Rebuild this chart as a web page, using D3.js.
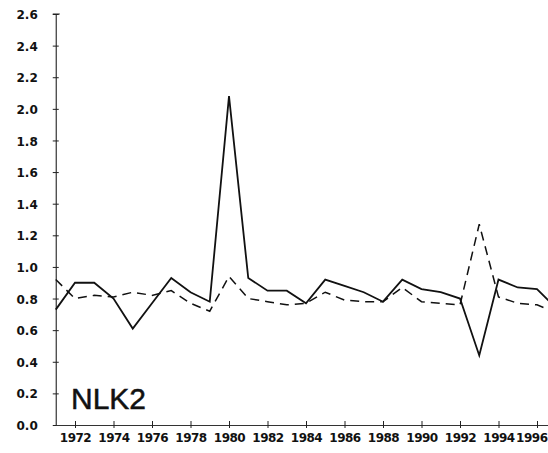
<!DOCTYPE html>
<html>
<head>
<meta charset="utf-8">
<script src="https://cdn.jsdelivr.net/npm/d3@7"></script>
<style>
  html, body { margin: 0; padding: 0; background: #fff; overflow: hidden; }
  .tick text { font-family: "DejaVu Sans", sans-serif; font-weight: bold; font-size: 12px; fill: #111; }
  .xax .tick text { letter-spacing: -0.5px; }
</style>
</head>
<body>
<div id="chart"></div>
<script>
// years and the two NLK2 series
const years = d3.range(1971, 1998);
const solidVals = [0.73, 0.90, 0.90, 0.80, 0.61, 0.77, 0.93, 0.84, 0.78, 2.08,
  0.93, 0.85, 0.85, 0.77, 0.92, 0.88, 0.84, 0.78, 0.92, 0.86,
  0.84, 0.80, 0.44, 0.92, 0.87, 0.86, 0.74];
const dashedVals = [0.92, 0.80, 0.82, 0.81, 0.84, 0.82, 0.85, 0.77, 0.72, 0.94,
  0.80, 0.78, 0.76, 0.77, 0.84, 0.79, 0.78, 0.78, 0.87, 0.78,
  0.77, 0.76, 1.27, 0.81, 0.77, 0.76, 0.71];
const yTicks = d3.range(0, 2.61, 0.2);
const xTicks = d3.range(1972, 1997, 2);

const width = 548, height = 453;

const svg = d3.select("#chart").append("svg")
  .attr("width", width)
  .attr("height", height);

const x = d3.scaleLinear().domain([1971, 1997]).range([55.75, 556.25]);
const y = d3.scaleLinear().domain([0, 2.6]).range([425, 14]);

// y axis, ticks cross the line
const yAxis = svg.append("g")
  .attr("transform", `translate(${x(1971)},0)`)
  .call(d3.axisLeft(y).tickValues(yTicks).tickFormat(d3.format(".1f")).tickSize(3).tickPadding(15).tickSizeOuter(0));
yAxis.select(".domain").attr("stroke", "#333").attr("stroke-width", 1.2);
yAxis.selectAll(".tick line").attr("x1", -3).attr("x2", 3).attr("stroke", "#222");
yAxis.selectAll(".tick text").attr("dy", "0.38em");
// cap at the top
yAxis.append("line").attr("x1", -3).attr("x2", 4).attr("y1", y(2.6)).attr("y2", y(2.6)).attr("stroke", "#222");

// x axis
const xAxis = svg.append("g")
  .attr("class", "xax")
  .attr("transform", `translate(0,${y(0)})`)
  .call(d3.axisBottom(x).tickValues(xTicks).tickFormat(d3.format("d")).tickSize(3).tickPadding(5).tickSizeOuter(0));
xAxis.select(".domain").attr("stroke", "#333").attr("stroke-width", 1.2);
xAxis.selectAll(".tick line").attr("y1", -4).attr("y2", 3).attr("stroke", "#222");
xAxis.selectAll(".tick text").attr("dy", "0.75em");
// last label sits against the right edge
xAxis.selectAll(".tick text").filter(d => d === 1996)
  .attr("text-anchor", "end").attr("x", width - 1 - x(1996));

const line = d3.line().x((d, i) => x(years[i])).y(d => y(d));

svg.append("path")
  .datum(dashedVals)
  .attr("d", line)
  .attr("fill", "none")
  .attr("stroke", "#111")
  .attr("stroke-width", 1.5)
  .attr("stroke-dasharray", "9,6");

svg.append("path")
  .datum(solidVals)
  .attr("d", line)
  .attr("fill", "none")
  .attr("stroke", "#111")
  .attr("stroke-width", 1.8)
  .attr("stroke-linejoin", "miter");

svg.append("text")
  .attr("x", 71)
  .attr("y", 409)
  .style("font-family", "Liberation Sans, Arial, sans-serif")
  .style("font-size", "30px")
  .style("fill", "#111")
  .style("stroke", "#111")
  .style("stroke-width", 0.5)
  .text("NLK2");
</script>
</body>
</html>
